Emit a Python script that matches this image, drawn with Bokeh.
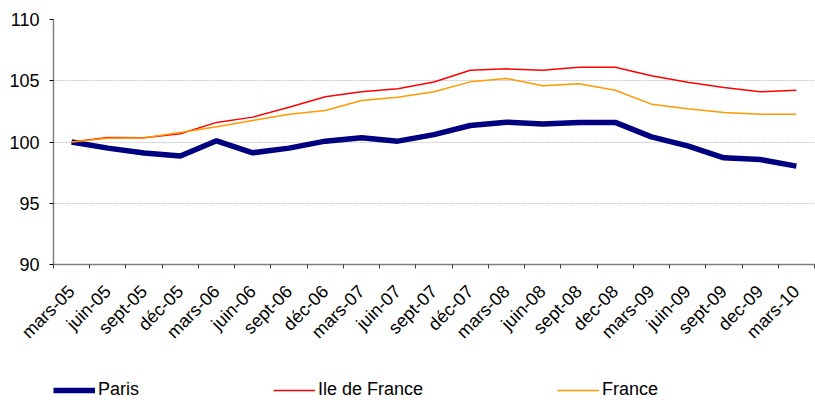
from bokeh.plotting import figure
from bokeh.layouts import column
from bokeh.models import FixedTicker, Range1d, Legend, LegendItem
from bokeh.embed import file_html
from bokeh.resources import INLINE
import math

labels = ["mars-05", "juin-05", "sept-05", "déc-05", "mars-06", "juin-06", "sept-06",
          "déc-06", "mars-07", "juin-07", "sept-07", "déc-07", "mars-08", "juin-08",
          "sept-08", "dec-08", "mars-09", "juin-09", "sept-09", "dec-09", "mars-10"]
paris = [100.0, 99.5, 99.1, 98.85, 100.1, 99.12, 99.5, 100.07, 100.34, 100.07, 100.6,
         101.35, 101.62, 101.46, 101.6, 101.6, 100.42, 99.69, 98.71, 98.57, 98.03]
idf = [100.0, 100.37, 100.34, 100.67, 101.6, 102.03, 102.84, 103.69, 104.1, 104.34, 104.9,
       105.86, 105.97, 105.86, 106.1, 106.1, 105.4, 104.88, 104.45, 104.1, 104.23]
france = [100.0, 100.3, 100.34, 100.78, 101.24, 101.76, 102.27, 102.57, 103.39, 103.66, 104.1,
          104.91, 105.18, 104.6, 104.75, 104.23, 103.09, 102.71, 102.41, 102.27, 102.27]
series_names = ["Paris", "Ile de France", "France"]
y_ticks = [90, 95, 100, 105, 110]

n = len(labels)
xs = [i + 0.5 for i in range(n)]
styles = [("#000080", 5.5), ("#FF0000", 1.5), ("#FF9900", 1.5)]

p = figure(width=815, height=362, output_backend="svg", toolbar_location=None,
           x_range=Range1d(0, n), y_range=Range1d(90, 110),
           min_border_left=53, min_border_right=1, min_border_top=19, min_border_bottom=98)
p.outline_line_color = None

for ys, (c, w) in zip([paris, idf, france], styles):
    p.line(xs, ys, line_color=c, line_width=w)

# axes
p.xaxis.ticker = FixedTicker(ticks=xs, minor_ticks=list(range(n + 1)))
p.xaxis.major_label_overrides = {x: lab for x, lab in zip(xs, labels)}
p.xaxis.major_tick_out = 0
p.xaxis.major_tick_in = 0
p.xaxis.minor_tick_out = 4
p.xaxis.minor_tick_in = 0
p.xaxis.minor_tick_line_color = "#404040"
p.xaxis.axis_line_color = "#808080"
p.xaxis.axis_line_width = 1.5
p.xaxis.major_label_orientation = math.pi / 4
p.xaxis.major_label_text_font = "Liberation Sans"
p.xaxis.major_label_text_font_size = "18px"
p.xaxis.major_label_text_color = "#000000"
p.xaxis.major_label_standoff = 20

p.yaxis.ticker = FixedTicker(ticks=y_ticks)
p.yaxis.major_tick_out = 4
p.yaxis.major_tick_in = 0
p.yaxis.minor_tick_line_color = None
p.yaxis.axis_line_color = "#808080"
p.yaxis.axis_line_width = 1.5
p.yaxis.major_tick_line_color = "#000000"
p.yaxis.major_label_text_font = "Liberation Sans"
p.yaxis.major_label_text_font_size = "18px"
p.yaxis.major_label_text_color = "#000000"
p.yaxis.major_label_standoff = 10

p.xgrid.grid_line_color = None
p.ygrid.ticker = FixedTicker(ticks=[95, 100, 105, 110])
p.ygrid.grid_line_color = "#c8c8c8"
p.ygrid.grid_line_dash = "2 1"
p.ygrid.grid_line_width = 1

# legend strip (lines exist but lie outside its visible range)
lg = figure(width=815, height=38, output_backend="svg", toolbar_location=None,
            x_range=Range1d(0, n), y_range=Range1d(0, 1),
            min_border_left=0, min_border_right=0, min_border_top=0, min_border_bottom=0)
lg.axis.visible = False
lg.grid.grid_line_color = None
lg.outline_line_color = None
items = []
for name, ys, (c, w) in zip(series_names, [paris, idf, france], styles):
    r = lg.line(xs, ys, line_color=c, line_width=w)
    items.append(LegendItem(label=name, renderers=[r]))
legend = Legend(items=items, orientation="horizontal", location=(0, 0),
                spacing=134, glyph_width=42, glyph_height=18, label_height=18,
                label_standoff=3,
                label_text_font="Liberation Sans", label_text_font_size="18px",
                label_text_color="#000000",
                background_fill_alpha=0, border_line_color=None, padding=0, margin=0)
lg.add_layout(legend, "center")

layout = column(p, lg, spacing=0)
open("out.html", "w").write(file_html(layout, INLINE))
